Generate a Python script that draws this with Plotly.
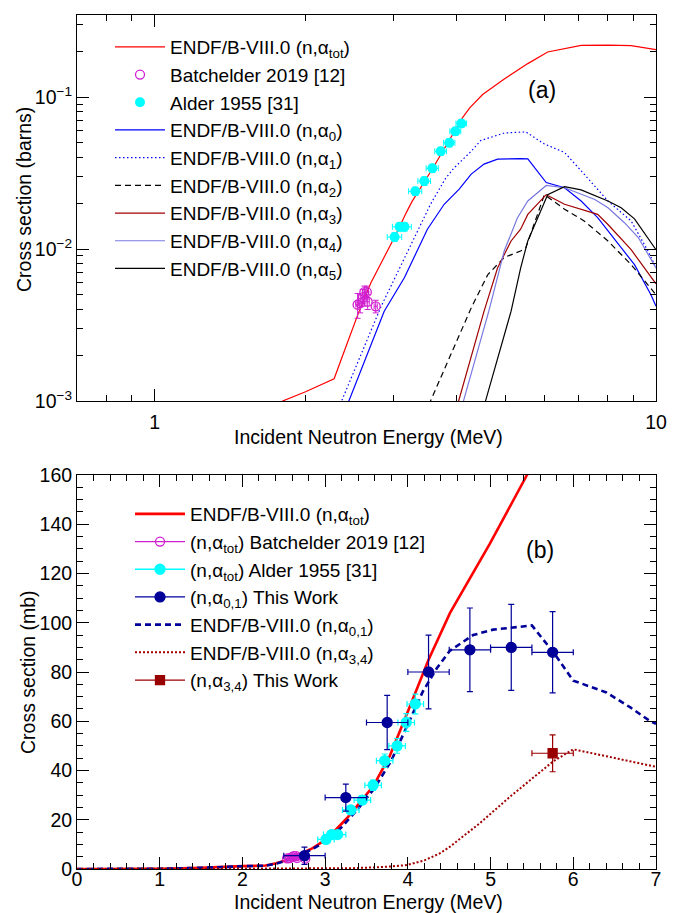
import math
import plotly.graph_objects as go

# ---------------- data ----------------
# ENDF/B-VIII.0 (n,alpha_tot): energy (MeV), cross section (mb)
E_tot = [0.0, 0.5, 1.0, 1.5, 1.8, 2.0, 2.28, 2.41, 2.55, 2.7, 2.85, 3.03, 3.18, 3.26, 3.58, 3.78,
         4.0, 4.11, 4.25, 4.51, 4.99, 5.44, 5.55, 6.08, 7.09, 8.02, 8.92, 10.0]
S_tot = [0.0, 0.02, 0.1, 0.5, 1.0, 1.15, 1.4, 2.3, 3.8, 6.0, 8.5, 12.5, 17.5, 20.5, 33.6, 45.8,
         64.0, 73.0, 85.0, 104.0, 132.0, 160.0, 166.0, 198.0, 219.0, 220.0, 218.0, 205.0]

# ENDF/B-VIII.0 partial channels (barns) for panel (a)
E_a0 = [2.3, 2.44, 2.87, 3.15, 3.5, 3.78, 4.05, 4.28, 4.54, 4.83, 5.37, 5.55, 6.04, 6.57, 7.09, 7.65, 8.52, 9.06, 9.77, 10.0]
S_a0 = [6e-4, 1.0e-3, 3.9e-3, 6.5e-3, 1.35e-2, 1.97e-2, 2.48e-2, 3.11e-2, 3.62e-2, 3.9e-2, 3.94e-2, 3.92e-2,
        2.74e-2, 2.53e-2, 2.07e-2, 1.61e-2, 1.02e-2, 7.9e-3, 5.0e-3, 4.2e-3]
E_a1 = [2.25, 2.36, 2.83, 3.24, 3.55, 3.8, 3.95, 4.28, 4.47, 4.98, 5.5, 5.99, 6.57, 7.19, 8.02, 8.92, 9.64, 10.0]
S_a1 = [6e-4, 1.0e-3, 4.2e-3, 1.07e-2, 1.97e-2, 2.9e-2, 3.4e-2, 4.4e-2, 5.17e-2, 5.8e-2, 5.9e-2, 4.91e-2,
        4.32e-2, 3.11e-2, 2.07e-2, 1.53e-2, 9.7e-3, 7.5e-3]
E_a2 = [3.45, 3.55, 4.28, 4.62, 4.98, 5.37, 5.5, 5.99, 6.57, 7.19, 8.02, 8.92, 9.77, 10.0]
S_a2 = [6e-4, 1.0e-3, 4.1e-3, 6.8e-3, 8.8e-3, 9.7e-3, 1.02e-2, 2.28e-2, 1.83e-2, 1.53e-2, 1.13e-2, 7.9e-3, 5.5e-3, 5.0e-3]
E_a3 = [3.95, 4.04, 4.54, 4.83, 5.14, 5.37, 5.55, 6.04, 6.57, 7.65, 8.02, 8.92, 10.0]
S_a3 = [6e-4, 1.0e-3, 3.9e-3, 7.5e-3, 1.13e-2, 1.35e-2, 1.69e-2, 2.28e-2, 1.97e-2, 1.69e-2, 1.45e-2, 9.9e-3, 5.9e-3]
E_a4 = [4.05, 4.13, 4.64, 4.98, 5.29, 5.55, 6.04, 6.57, 7.55, 8.02, 8.65, 9.22, 10.0]
S_a4 = [6e-4, 1.0e-3, 3.9e-3, 9.7e-3, 1.6e-2, 2.07e-2, 2.62e-2, 2.53e-2, 2.12e-2, 1.87e-2, 1.49e-2, 1.19e-2, 7.5e-3]
E_a5 = [4.5, 4.57, 5.14, 5.37, 5.55, 6.08, 6.57, 7.09, 8.02, 8.52, 9.06, 10.0]
S_a5 = [6e-4, 1.0e-3, 3.9e-3, 7.5e-3, 1.13e-2, 2.28e-2, 2.57e-2, 2.45e-2, 2.07e-2, 1.87e-2, 1.58e-2, 9.9e-3]

# ENDF/B-VIII.0 summed channels (mb) for panel (b)
E_a01 = [0.0, 0.5, 1.0, 1.5, 1.8, 2.0, 2.28, 2.41, 2.55, 2.7, 2.85, 3.03, 3.2, 3.4, 3.6, 3.8, 4.0, 4.18,
         4.35, 4.51, 4.79, 5.03, 5.5, 5.76, 6.0, 6.4, 6.69, 6.93, 7.0]
S_a01 = [0.0, 0.02, 0.1, 0.5, 0.95, 1.1, 1.35, 2.2, 3.6, 5.7, 8.1, 11.8, 17.0, 24.5, 33.0, 44.0, 58.5, 72.0,
         81.5, 88.7, 95.0, 97.2, 98.9, 88.0, 76.5, 71.7, 65.6, 60.0, 59.0]
E_a34 = [0.0, 2.9, 3.3, 3.7, 3.99, 4.2, 4.39, 4.51, 4.87, 5.24, 5.52, 5.76, 6.0, 6.08, 6.4, 6.97, 7.0]
S_a34 = [0.0, 0.0, 0.3, 0.8, 1.6, 3.5, 6.4, 9.1, 18.6, 29.5, 37.0, 43.8, 48.6, 48.0, 45.8, 41.7, 41.5]

# Batchelder 2019 [12] (mb)
E_bat = [2.54, 2.57, 2.60, 2.62, 2.65, 2.66, 2.76]
S_bat = [4.3, 4.4, 4.8, 5.2, 5.2, 4.5, 4.2]
dS_bat = [0.8, 0.6, 0.6, 0.5, 0.5, 0.5, 0.4]
dE_bat = [0.02, 0.02, 0.02, 0.02, 0.02, 0.02, 0.02]

# Alder 1955 [31] (mb)
E_ald = [3.01, 3.08, 3.15, 3.31, 3.45, 3.58, 3.72, 3.87, 3.98, 4.09]
S_ald = [12.0, 14.0, 14.0, 24.0, 28.0, 34.0, 44.0, 50.0, 59.5, 67.0]
dS_ald = [0.8, 0.9, 0.9, 1.5, 1.8, 2.1, 2.7, 3.0, 3.6, 4.0]
dE_ald = [0.1, 0.1, 0.1, 0.1, 0.1, 0.1, 0.1, 0.1, 0.1, 0.1]

# This work (mb)
E_tw01 = [2.75, 3.25, 3.75, 4.25, 4.75, 5.25, 5.75]
S_tw01 = [5.4, 29.0, 59.5, 80.0, 89.0, 90.0, 88.0]
dS_tw01 = [3.5, 5.5, 11.0, 15.0, 17.0, 17.5, 16.5]
dE_tw01 = [0.25, 0.25, 0.25, 0.25, 0.25, 0.25, 0.25]
E_tw34 = [5.75]
S_tw34 = [47.0]
dS_tw34 = [7.5]
dE_tw34 = [0.25]

# tick labels
top_xticks = [1, 10]
top_xtext = ["1", "10"]
top_xminor = [0.7, 0.8, 0.9, 2, 3, 4, 5, 6, 7, 8, 9]
top_yticks = [1e-3, 1e-2, 1e-1]
top_ytext = ["10<sup>\u22123</sup>", "10<sup>\u22122</sup>", "10<sup>\u22121</sup>"]
top_yminor = [m * d for d in (1e-3, 1e-2, 1e-1) for m in range(2, 10)]

# ---------------- styling ----------------
FONT = "Liberation Sans, Arial, Helvetica, sans-serif"
RED = "#ff0000"
MAG = "#d020d0"
CYAN = "#00ffff"
BLUE = "#0000ff"
NAVY = "#000099"
DRED = "#a00000"
LBLUE = "#7878e0"

def to_barn(v):
    return [x / 1000.0 for x in v]

fig = go.Figure()

# ---------- panel (a) ----------
tot_pos = [(e, s) for e, s in zip(E_tot, S_tot) if e > 0 and s > 0]
fig.add_trace(go.Scatter(x=[p[0] for p in tot_pos], y=to_barn([p[1] for p in tot_pos]),
                         mode="lines", line=dict(color=RED, width=1.2),
                         name="ENDF/B-VIII.0 (n,\u03b1<sub>tot</sub>)", legend="legend", legendrank=1,
                         xaxis="x", yaxis="y"))
curves = [
    (E_a0, S_a0, BLUE, "solid", "0", 4),
    (E_a1, S_a1, BLUE, "1.5px,2.5px", "1", 5),
    (E_a2, S_a2, "#000000", "6px,4px", "2", 6),
    (E_a3, S_a3, DRED, "solid", "3", 7),
    (E_a4, S_a4, LBLUE, "solid", "4", 8),
    (E_a5, S_a5, "#000000", "solid", "5", 9),
]
for ex, sy, col, dash, idx, rank in curves:
    fig.add_trace(go.Scatter(x=ex, y=sy, mode="lines", line=dict(color=col, width=1.2, dash=dash),
                             name="ENDF/B-VIII.0 (n,\u03b1<sub>%s</sub>)" % idx, legend="legend",
                             legendrank=rank, xaxis="x", yaxis="y"))
fig.add_trace(go.Scatter(x=E_bat, y=to_barn(S_bat), mode="markers",
                         marker=dict(symbol="circle-open", size=9, color=MAG, line=dict(width=1.3, color=MAG)),
                         error_y=dict(type="data", array=to_barn(dS_bat), color=MAG, thickness=1, width=3),
                         error_x=dict(type="data", array=dE_bat, color=MAG, thickness=1, width=3),
                         name="Batchelder 2019 [12]", legend="legend", legendrank=2, xaxis="x", yaxis="y"))
fig.add_trace(go.Scatter(x=E_ald, y=to_barn(S_ald), mode="markers",
                         marker=dict(symbol="circle", size=10, color=CYAN),
                         error_y=dict(type="data", array=to_barn(dS_ald), color=CYAN, thickness=1, width=3),
                         error_x=dict(type="data", array=dE_ald, color=CYAN, thickness=1, width=3),
                         name="Alder 1955 [31]", legend="legend", legendrank=3, xaxis="x", yaxis="y"))

# ---------- panel (b) ----------
fig.add_trace(go.Scatter(x=E_tot, y=S_tot, mode="lines", line=dict(color=RED, width=2.6),
                         name="ENDF/B-VIII.0 (n,\u03b1<sub>tot</sub>)", legend="legend2", legendrank=1,
                         xaxis="x2", yaxis="y2"))
fig.add_trace(go.Scatter(x=E_a01, y=S_a01, mode="lines", line=dict(color=NAVY, width=2.6, dash="6px,4px"),
                         name="ENDF/B-VIII.0 (n,\u03b1<sub>0,1</sub>)", legend="legend2", legendrank=5,
                         xaxis="x2", yaxis="y2"))
fig.add_trace(go.Scatter(x=E_a34, y=S_a34, mode="lines", line=dict(color=DRED, width=2, dash="2px,2px"),
                         name="ENDF/B-VIII.0 (n,\u03b1<sub>3,4</sub>)", legend="legend2", legendrank=6,
                         xaxis="x2", yaxis="y2"))

points_b = [
    (E_bat, S_bat, dE_bat, dS_bat, MAG, "circle-open", 9, "(n,\u03b1<sub>tot</sub>) Batchelder 2019 [12]", 2),
    (E_ald, S_ald, dE_ald, dS_ald, CYAN, "circle", 10, "(n,\u03b1<sub>tot</sub>) Alder 1955 [31]", 3),
    (E_tw01, S_tw01, dE_tw01, dS_tw01, NAVY, "circle", 10, "(n,\u03b1<sub>0,1</sub>) This Work", 4),
    (E_tw34, S_tw34, dE_tw34, dS_tw34, "#990000", "square", 9, "(n,\u03b1<sub>3,4</sub>) This Work", 7),
]
for ex, sy, dx, dy, col, sym, sz, nm, rank in points_b:
    mk = dict(symbol=sym, size=sz, color=col, line=dict(width=1.3, color=col))
    fig.add_trace(go.Scatter(x=ex, y=sy, mode="markers", marker=mk,
                             error_y=dict(type="data", array=dy, color=col, thickness=1.2, width=3),
                             error_x=dict(type="data", array=dx, color=col, thickness=1.2, width=3),
                             showlegend=False, xaxis="x2", yaxis="y2"))
    # legend entry (line + marker, as in the original)
    fig.add_trace(go.Scatter(x=[None], y=[None], mode="lines+markers", marker=mk,
                             line=dict(color=col, width=1.3), name=nm, legend="legend2",
                             legendrank=rank, xaxis="x2", yaxis="y2"))

# ---------------- layout ----------------
tickfont = dict(family=FONT, size=19.5, color="black")
titlefont = dict(family=FONT, size=19.5, color="black")
common = dict(showline=True, linecolor="black", linewidth=1, mirror="allticks", ticks="inside",
              tickcolor="black", tickwidth=1, ticklen=12, showgrid=False, zeroline=False,
              tickfont=tickfont, automargin=False)

top_lo = (869 - 401) / 854.0
bot_hi = (869 - 475) / 854.0

fig.update_layout(
    width=691, height=913,
    margin=dict(l=77, r=35, t=15, b=44),
    paper_bgcolor="white", plot_bgcolor="white",
    font=dict(family=FONT, color="black"),
    xaxis=dict(common, type="log", range=[math.log10(0.7), 1.0], domain=[0, 1], anchor="y",
               tickmode="array", tickvals=top_xticks, ticktext=top_xtext, ticklabelstandoff=4,
               minor=dict(tickmode="array", tickvals=top_xminor, ticks="inside", ticklen=6,
                          tickcolor="black", tickwidth=1)),
    yaxis=dict(common, type="log", range=[-3, -0.46], domain=[top_lo, 1], anchor="x",
               tickmode="array", tickvals=top_yticks, ticktext=top_ytext,
               minor=dict(tickmode="array", tickvals=top_yminor, ticks="inside", ticklen=6,
                          tickcolor="black", tickwidth=1)),
    xaxis2=dict(common, range=[0, 7], domain=[0, 1], anchor="y2", dtick=1, tick0=0,
                ticklabelstandoff=-7,
                minor=dict(dtick=0.2, ticks="inside", ticklen=6, tickcolor="black", tickwidth=1)),
    yaxis2=dict(common, range=[0, 160], domain=[0, bot_hi], anchor="x2", dtick=20, tick0=0,
                minor=dict(dtick=5, ticks="inside", ticklen=6, tickcolor="black", tickwidth=1)),
    legend=dict(x=(110 - 77) / 579.0, y=(869 - 28) / 854.0, xanchor="left", yanchor="top",
                bgcolor="rgba(0,0,0,0)", font=dict(family=FONT, size=19, color="black"),
                itemwidth=50, tracegroupgap=0, traceorder="normal"),
    legend2=dict(x=(130 - 77) / 579.0, y=(869 - 495) / 854.0, xanchor="left", yanchor="top",
                 bgcolor="rgba(0,0,0,0)", font=dict(family=FONT, size=19, color="black"),
                 itemwidth=50, tracegroupgap=0, traceorder="normal"),
    annotations=[
        dict(text="(a)", xref="x domain", yref="y domain", x=(558 - 77) / 579.0, y=(401 - 75) / 386.0,
             showarrow=False, font=dict(family=FONT, size=23, color="black")),
        dict(text="(b)", xref="x2 domain", yref="y2 domain", x=(556 - 77) / 579.0, y=(869 - 535) / 394.0,
             showarrow=False, font=dict(family=FONT, size=23, color="black")),
        # axis titles
        dict(text="Incident Neutron Energy (MeV)", xref="x domain", yref="y domain",
             x=(368 - 77) / 579.0, y=(401 - 437) / 386.0, xanchor="center", yanchor="middle",
             showarrow=False, font=titlefont),
        dict(text="Incident Neutron Energy (MeV)", xref="x2 domain", yref="y2 domain",
             x=(368 - 77) / 579.0, y=(869 - 902) / 394.0, xanchor="center", yanchor="middle",
             showarrow=False, font=titlefont),
        dict(text="Cross section (barns)", xref="x domain", yref="y domain", textangle=-90,
             x=(24 - 77) / 579.0, y=(401 - 200) / 386.0, xanchor="center", yanchor="middle",
             showarrow=False, font=titlefont),
        dict(text="Cross section (mb)", xref="x2 domain", yref="y2 domain", textangle=-90,
             x=(28 - 77) / 579.0, y=0.5, xanchor="center", yanchor="middle",
             showarrow=False, font=titlefont),
    ],
)

fig.write_html("out.html")
